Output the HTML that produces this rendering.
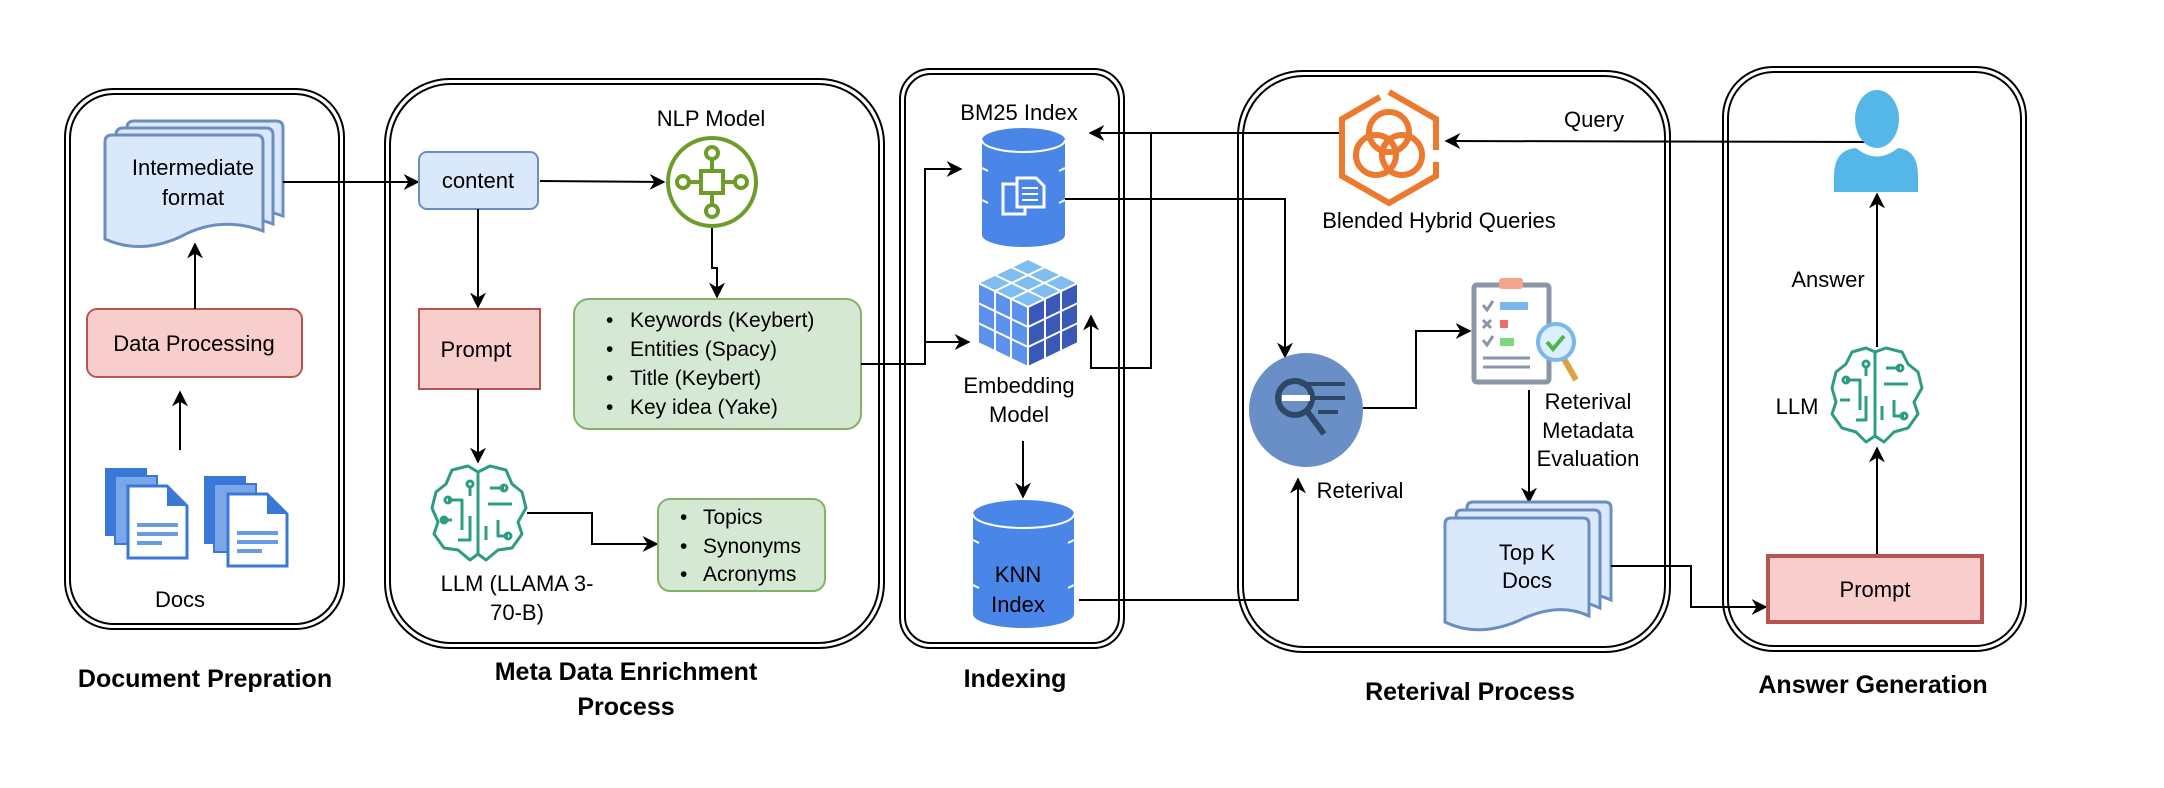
<!DOCTYPE html>
<html><head><meta charset="utf-8"><style>
html,body{margin:0;padding:0;background:#fff;}
svg{display:block;}
text{font-family:"Liberation Sans",Arial,sans-serif;fill:#000;}
.t{font-size:22px;text-anchor:middle;}
.b{font-size:25px;font-weight:bold;text-anchor:middle;}
.l{font-size:21px;}
</style></head><body>
<svg width="2164" height="788" viewBox="0 0 2164 788" xmlns="http://www.w3.org/2000/svg">
<defs>
<marker id="a" viewBox="0 0 10 10" refX="9" refY="5" markerWidth="7" markerHeight="7" orient="auto" markerUnits="userSpaceOnUse">
<path d="M0,0 L10,5 L0,10 L3,5 Z" fill="#000"/></marker>
<marker id="ah" viewBox="0 0 10 10" refX="9" refY="5" markerWidth="16" markerHeight="16" orient="auto" markerUnits="userSpaceOnUse">
<path d="M0,0 L10,5 L0,10 L3,5 Z" fill="#000"/></marker>
</defs>

<!-- panels -->
<g fill="none" stroke="#000" stroke-width="2">
<rect x="65" y="89" width="279" height="540" rx="48"/>
<rect x="70" y="94" width="269" height="530" rx="44"/>
<rect x="385" y="79" width="499" height="569" rx="65"/>
<rect x="390" y="84" width="489" height="559" rx="61"/>
<rect x="900" y="69" width="224" height="579" rx="30"/>
<rect x="905" y="74" width="214" height="569" rx="26"/>
<rect x="1238" y="71" width="432" height="581" rx="65"/>
<rect x="1243" y="76" width="422" height="571" rx="61"/>
<rect x="1723" y="67" width="303" height="584" rx="50"/>
<rect x="1728" y="72" width="293" height="574" rx="46"/>
</g>

<!-- titles -->
<text class="b" x="205" y="687">Document Prepration</text>
<text class="b" x="626" y="680">Meta Data Enrichment</text>
<text class="b" x="626" y="715">Process</text>
<text class="b" x="1015" y="687">Indexing</text>
<text class="b" x="1470" y="700">Reterival Process</text>
<text class="b" x="1873" y="693">Answer Generation</text>

<!-- Doc prep -->
<g fill="#dae8fc" stroke="#6c8ebf" stroke-width="3">
<path d="M127,128 Q127,121 134,121 H276 Q283,121 283,128 V216 Q240,200 200,222 Q160,240 127,224 Z"/>
<path d="M116,135 Q116,128 123,128 H266 Q273,128 273,135 V224 Q230,208 190,230 Q150,248 116,232 Z"/>
<path d="M105,142 Q105,135 112,135 H256 Q263,135 263,142 V231 Q220,215 180,237 Q140,255 105,239 Z"/>
</g>
<text class="t" x="193" y="175">Intermediate</text>
<text class="t" x="193" y="205">format</text>
<rect x="87" y="309" width="215" height="68" rx="10" fill="#f8cecc" stroke="#b85450" stroke-width="2"/>
<text class="t" x="194" y="351">Data Processing</text>
<line x1="195" y1="309" x2="195" y2="244" stroke="#000" stroke-width="2" marker-end="url(#ah)"/>
<line x1="180" y1="450" x2="180" y2="392" stroke="#000" stroke-width="2" marker-end="url(#ah)"/>
<g>
<rect x="105" y="468" width="42" height="68" fill="#3a78d8"/>
<rect x="115" y="476" width="42" height="68" fill="#7aa7ea" stroke="#3a78d8" stroke-width="2"/>
<path d="M128,486 H167 L187,506 V558 H128 Z" fill="#fff" stroke="#3a78d8" stroke-width="3"/>
<path d="M167,486 V506 H187 Z" fill="#3a78d8"/>
<g stroke="#6a9ae6" stroke-width="4"><line x1="137" y1="525" x2="178" y2="525"/><line x1="137" y1="534" x2="178" y2="534"/><line x1="137" y1="543" x2="162" y2="543"/></g>
<rect x="204" y="476" width="42" height="68" fill="#3a78d8"/>
<rect x="214" y="484" width="42" height="68" fill="#7aa7ea" stroke="#3a78d8" stroke-width="2"/>
<path d="M228,494 H267 L287,514 V566 H228 Z" fill="#fff" stroke="#3a78d8" stroke-width="3"/>
<path d="M267,494 V514 H287 Z" fill="#3a78d8"/>
<g stroke="#6a9ae6" stroke-width="4"><line x1="237" y1="533" x2="278" y2="533"/><line x1="237" y1="542" x2="278" y2="542"/><line x1="237" y1="551" x2="262" y2="551"/></g>
</g>
<text class="t" x="180" y="607">Docs</text>

<!-- connector doc -> content -->
<line x1="283" y1="182" x2="418" y2="182" stroke="#000" stroke-width="2" marker-end="url(#ah)"/>

<!-- Meta -->
<rect x="419" y="152" width="119" height="57" rx="8" fill="#dae8fc" stroke="#6c8ebf" stroke-width="2"/>
<text class="t" x="478" y="188">content</text>
<line x1="540" y1="181" x2="664" y2="182" stroke="#000" stroke-width="2" marker-end="url(#ah)"/>
<text class="t" x="711" y="126">NLP Model</text>
<g fill="none" stroke="#6e9c2a" stroke-width="4">
<circle cx="712" cy="182" r="44"/>
<rect x="701" y="171" width="22" height="22"/>
<circle cx="712" cy="153" r="6"/><line x1="712" y1="159" x2="712" y2="171"/>
<circle cx="712" cy="211" r="6"/><line x1="712" y1="193" x2="712" y2="205"/>
<circle cx="683" cy="182" r="6"/><line x1="689" y1="182" x2="701" y2="182"/>
<circle cx="741" cy="182" r="6"/><line x1="723" y1="182" x2="735" y2="182"/>
</g>
<polyline points="712,228 712,268 717,268 717,297" fill="none" stroke="#000" stroke-width="2" marker-end="url(#ah)"/>
<rect x="574" y="299" width="287" height="130" rx="15" fill="#d5e8d4" stroke="#82b366" stroke-width="2"/>
<g class="l">
<text x="606" y="327" class="l">•</text><text x="630" y="327" class="l">Keywords (Keybert)</text>
<text x="606" y="356" class="l">•</text><text x="630" y="356" class="l">Entities (Spacy)</text>
<text x="606" y="385" class="l">•</text><text x="630" y="385" class="l">Title (Keybert)</text>
<text x="606" y="414" class="l">•</text><text x="630" y="414" class="l">Key idea (Yake)</text>
</g>
<line x1="478" y1="209" x2="478" y2="307" stroke="#000" stroke-width="2" marker-end="url(#ah)"/>
<rect x="419" y="309" width="121" height="80" fill="#f8cecc" stroke="#b85450" stroke-width="2"/>
<text class="t" x="476" y="357">Prompt</text>
<line x1="478" y1="389" x2="478" y2="462" stroke="#000" stroke-width="2" marker-end="url(#ah)"/>
<!-- brain 1 -->
<g fill="none" stroke="#2e9c82" stroke-width="3" stroke-linejoin="round">
<path d="M478,472 L468,466 L452,470 L446,484 L436,492 L432,508 L438,522 L434,534 L444,548 L458,550 L470,560 L478,554 L486,560 L498,550 L512,548 L522,534 L518,522 L526,508 L522,492 L512,484 L506,470 L490,466 Z"/>
<line x1="478" y1="472" x2="478" y2="554"/>
<path d="M448,500 H462 V530 M442,520 H452 M458,540 H470 V516 M470,496 V486 M490,488 H504 M488,504 H512 M498,520 V536 H508 M486,540 V526"/>
<circle cx="448" cy="500" r="3"/><circle cx="470" cy="484" r="3"/><circle cx="504" cy="488" r="3"/><circle cx="508" cy="536" r="3"/><circle cx="444" cy="520" r="3"/>
</g>
<text class="t" x="517" y="591">LLM (LLAMA 3-</text>
<text class="t" x="517" y="620">70-B)</text>
<polyline points="527,513 592,513 592,544 657,544" fill="none" stroke="#000" stroke-width="2" marker-end="url(#ah)"/>
<rect x="658" y="499" width="167" height="92" rx="12" fill="#d5e8d4" stroke="#82b366" stroke-width="2"/>
<text x="680" y="524" class="l">•</text><text x="703" y="524" class="l">Topics</text>
<text x="680" y="553" class="l">•</text><text x="703" y="553" class="l">Synonyms</text>
<text x="680" y="581" class="l">•</text><text x="703" y="581" class="l">Acronyms</text>

<!-- keywords -> indexing -->
<polyline points="861,364 925,364 925,169 961,169" fill="none" stroke="#000" stroke-width="2" marker-end="url(#ah)"/>
<polyline points="925,342 969,342" fill="none" stroke="#000" stroke-width="2" marker-end="url(#ah)"/>

<!-- Indexing -->
<text class="t" x="1019" y="120">BM25 Index</text>
<path d="M982,140 A41.5,12 0 0 1 1065,140 V235 A41.5,12 0 0 1 982,235 Z" fill="#4a86e8"/>
<path d="M982,140 A41.5,12 0 0 0 1065,140" fill="none" stroke="#fff" stroke-width="2"/>
<g fill="none" stroke="#fff" stroke-width="2"><path d="M982,168 l6,3 M1065,168 l-6,3 M982,200 l6,3 M1065,200 l-6,3"/></g>
<rect x="1003" y="184" width="22" height="30" fill="#4a86e8" stroke="#fff" stroke-width="3"/>
<path d="M1017,178 H1036 L1044,186 V207 H1017 Z" fill="#4a86e8" stroke="#fff" stroke-width="3"/>
<g stroke="#fff" stroke-width="2"><line x1="1022" y1="188" x2="1038" y2="188"/><line x1="1022" y1="194" x2="1038" y2="194"/><line x1="1022" y1="200" x2="1038" y2="200"/></g>
<!-- cube -->
<g stroke="#fff" stroke-width="2">
<path d="M1028,259 L1078,283 L1028,307 L978,283 Z" fill="#7fbcf0"/>
<path d="M978,283 L1028,307 V367 L978,343 Z" fill="#5a92ee"/>
<path d="M1028,307 L1078,283 V343 L1028,367 Z" fill="#3a58b8"/>
<path d="M995,275 L1045,299 M1011,267 L1061,291 M995,291 L1045,267 M1011,299 L1061,275" fill="none"/>
<path d="M995,291 V351 M1011,299 V359 M978,303 L1028,327 M978,323 L1028,347" fill="none"/>
<path d="M1045,299 V359 M1061,291 V351 M1028,327 L1078,303 M1028,347 L1078,323" fill="none"/>
</g>
<text class="t" x="1019" y="393">Embedding</text>
<text class="t" x="1019" y="422">Model</text>
<line x1="1023" y1="441" x2="1023" y2="497" stroke="#000" stroke-width="2" marker-end="url(#ah)"/>
<path d="M973,514 A50.5,14 0 0 1 1074,514 V614 A50.5,14 0 0 1 973,614 Z" fill="#4a86e8"/>
<path d="M973,514 A50.5,14 0 0 0 1074,514" fill="none" stroke="#fff" stroke-width="2"/>
<g fill="none" stroke="#fff" stroke-width="2"><path d="M973,540 l6,3 M1074,540 l-6,3 M973,585 l6,3 M1074,585 l-6,3"/></g>
<text class="t" x="1018" y="582">KNN</text>
<text class="t" x="1018" y="612">Index</text>

<!-- connectors indexing <-> retrieval -->
<polyline points="1339,133 1090,133" fill="none" stroke="#000" stroke-width="2" marker-end="url(#ah)"/>
<polyline points="1151,133 1151,368 1091,368 1091,316" fill="none" stroke="#000" stroke-width="2" marker-end="url(#ah)"/>
<polyline points="1065,199 1285,199 1285,357" fill="none" stroke="#000" stroke-width="2" marker-end="url(#ah)"/>
<polyline points="1079,600 1298,600 1298,479" fill="none" stroke="#000" stroke-width="2" marker-end="url(#ah)"/>

<!-- Retrieval -->
<g fill="none" stroke="#ec7a2e" stroke-width="6">
<path d="M1389,92 L1436,119 V150 M1436,162 V176 L1389,203 L1342,176 V119 L1380,97"/>
<circle cx="1389" cy="132" r="20"/>
<circle cx="1376" cy="155" r="20"/>
<circle cx="1402" cy="155" r="20"/>
</g>
<text class="t" x="1439" y="228">Blended Hybrid Queries</text>
<text class="t" x="1594" y="127">Query</text>
<line x1="1867" y1="142" x2="1446" y2="141" stroke="#000" stroke-width="2" marker-end="url(#ah)"/>
<circle cx="1306" cy="410" r="57" fill="#6a8fc7"/>
<g stroke="#2e4766" stroke-width="6" fill="none">
<circle cx="1295" cy="398" r="17"/><line x1="1307" y1="411" x2="1324" y2="434"/>
</g>
<rect x="1282" y="395" width="28" height="6" fill="#fff"/>
<g stroke="#2e4766" stroke-width="4"><line x1="1300" y1="384" x2="1345" y2="384"/><line x1="1313" y1="398" x2="1345" y2="398"/><line x1="1318" y1="412" x2="1338" y2="412"/></g>
<text class="t" x="1360" y="498">Reterival</text>
<polyline points="1363,408 1416,408 1416,331 1470,331" fill="none" stroke="#000" stroke-width="2" marker-end="url(#ah)"/>
<!-- clipboard -->
<rect x="1474" y="285" width="75" height="97" rx="3" fill="#fff" stroke="#8a95a5" stroke-width="5"/>
<rect x="1499" y="278" width="24" height="11" rx="3" fill="#f4a58a"/>
<g stroke="#8a95a5" stroke-width="3" fill="none"><path d="M1483,305 l4,5 l6,-9 M1483,320 l8,8 M1491,320 l-8,8 M1483,340 l4,5 l6,-9"/><line x1="1483" y1="358" x2="1530" y2="358"/><line x1="1483" y1="367" x2="1530" y2="367"/></g>
<rect x="1500" y="302" width="28" height="8" fill="#7ab6f0"/>
<rect x="1500" y="320" width="8" height="8" fill="#f06a6a"/>
<rect x="1500" y="338" width="14" height="8" fill="#7fd67f"/>
<line x1="1563" y1="357" x2="1576" y2="380" stroke="#e0a040" stroke-width="6"/>
<circle cx="1556" cy="342" r="18" fill="#dcefff" stroke="#7ab6f0" stroke-width="4"/>
<path d="M1547,342 l6,7 l11,-13" fill="none" stroke="#4cb848" stroke-width="4"/>
<text class="t" x="1588" y="409">Reterival</text>
<text class="t" x="1588" y="438">Metadata</text>
<text class="t" x="1588" y="466">Evaluation</text>
<line x1="1529" y1="390" x2="1529" y2="502" stroke="#000" stroke-width="2" marker-end="url(#ah)"/>
<g fill="#dae8fc" stroke="#6c8ebf" stroke-width="3">
<path d="M1467,508 Q1467,502 1473,502 H1605 Q1611,502 1611,508 V600 Q1580,585 1540,605 Q1500,622 1467,606 Z"/>
<path d="M1456,516 Q1456,510 1462,510 H1594 Q1600,510 1600,516 V608 Q1569,593 1529,613 Q1489,630 1456,614 Z"/>
<path d="M1445,524 Q1445,518 1451,518 H1583 Q1589,518 1589,524 V616 Q1558,601 1518,621 Q1478,638 1445,622 Z"/>
</g>
<text class="t" x="1527" y="560">Top K</text>
<text class="t" x="1527" y="588">Docs</text>
<polyline points="1611,566 1691,566 1691,607 1766,607" fill="none" stroke="#000" stroke-width="2" marker-end="url(#ah)"/>

<!-- Answer -->
<ellipse cx="1877" cy="119" rx="22" ry="29" fill="#55b7e8"/>
<path d="M1834,192 V176 Q1834,150 1856,148 Q1877,165 1898,148 Q1918,150 1918,176 V192 Z" fill="#55b7e8"/>
<line x1="1877" y1="347" x2="1877" y2="194" stroke="#000" stroke-width="2" marker-end="url(#ah)"/>
<text class="t" x="1828" y="287">Answer</text>
<g fill="none" stroke="#2e9c82" stroke-width="3" stroke-linejoin="round">
<path d="M1875,352 L1866,348 L1852,352 L1846,364 L1836,372 L1832,388 L1836,402 L1832,414 L1842,428 L1856,432 L1866,442 L1875,436 L1884,442 L1894,432 L1908,428 L1918,414 L1914,402 L1922,388 L1918,372 L1908,364 L1902,352 L1886,348 Z"/>
<line x1="1875" y1="352" x2="1875" y2="436"/>
<path d="M1846,380 H1860 V410 M1840,400 H1850 M1856,420 H1866 V396 M1866,376 V366 M1886,368 H1900 M1884,384 H1908 M1894,400 V416 H1904 M1882,420 V406"/>
<circle cx="1846" cy="380" r="3"/><circle cx="1866" cy="364" r="3"/><circle cx="1900" cy="368" r="3"/><circle cx="1904" cy="416" r="3"/>
</g>
<text class="t" x="1797" y="414">LLM</text>
<line x1="1877" y1="554" x2="1877" y2="448" stroke="#000" stroke-width="2" marker-end="url(#ah)"/>
<rect x="1768" y="556" width="214" height="66" fill="#f8cecc" stroke="#b85450" stroke-width="4"/>
<text class="t" x="1875" y="597">Prompt</text>
</svg>
</body></html>
